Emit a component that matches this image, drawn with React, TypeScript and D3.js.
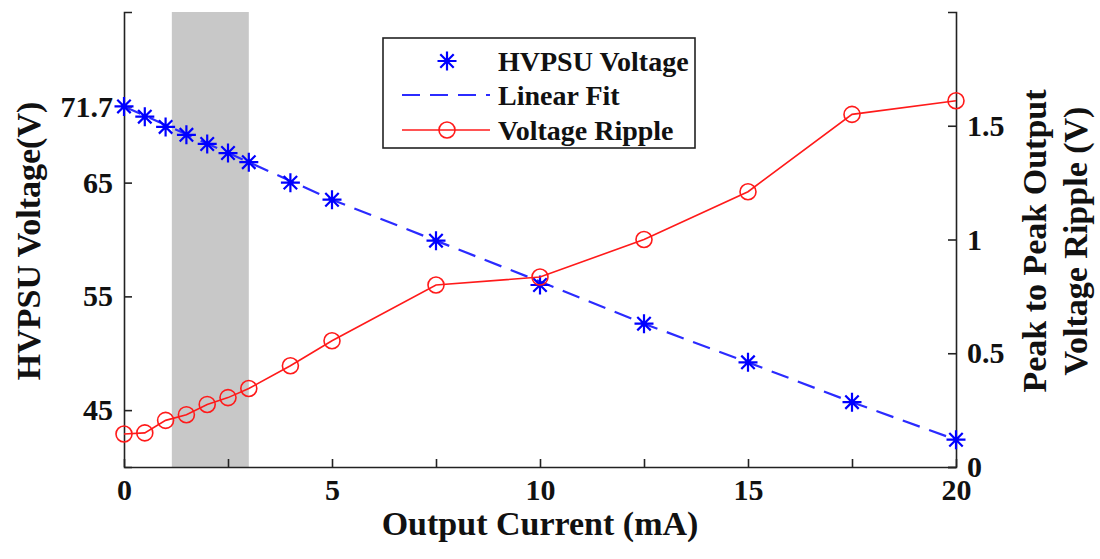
import React, { useRef, useEffect } from 'react';
import * as d3 from 'd3';

// output current (mA) for every measurement
const currents = [0, 0.5, 1, 1.5, 2, 2.5, 3, 4, 5, 7.5, 10, 12.5, 15, 17.5, 20];
// HVPSU output voltage (V), left axis
const voltage = [71.7, 70.8, 69.9, 69.2, 68.4, 67.6, 66.8, 65.0, 63.5, 59.9, 56.0, 52.6, 49.2, 45.7, 42.4];
// peak to peak ripple (V), right axis
const ripple = [0.145, 0.15, 0.205, 0.23, 0.275, 0.305, 0.345, 0.445, 0.555, 0.8, 0.835, 1.0, 1.21, 1.55, 1.61];

// dashed linear fit
const fitX = [0, 3, 5, 7.5, 10, 12.5, 15, 17.5, 20];
const fitY = [71.7, 66.8, 63.5, 59.9, 56.3, 52.6, 49.2, 45.7, 42.4];

// shaded band on the current axis
const band = [1.15, 3];

const xTicks = [0, 2.5, 5, 7.5, 10, 12.5, 15, 17.5, 20];
const leftTicks = [45, 55, 65, 71.7];
const rightTicks = [0, 0.5, 1, 1.5];

const legendItems = ['HVPSU Voltage', 'Linear Fit', 'Voltage Ripple'];

const FONT = '"Liberation Serif", "Times New Roman", serif';
const BLUE = '#0000ff';
const RED = '#ff1a1a';

function starPath(r) {
  const d = r * Math.SQRT1_2;
  return `M${-r},0H${r}M0,${-r}V${r}M${-d},${-d}L${d},${d}M${-d},${d}L${d},${-d}`;
}

function RippleChart() {
  const ref = useRef(null);
  const width = 1100;
  const height = 559;

  useEffect(() => {
    if (!ref.current) return;
    const svg = d3.select(ref.current);
    svg.selectAll('*').remove();

    const x = d3.scaleLinear().domain([0, 20]).range([124, 956]);
    const yL = d3.scaleLinear().domain([40, 80]).range([467, 12]);
    const yR = d3.scaleLinear().domain([0, 2]).range([467, 12]);

    // gray band
    svg.append('rect')
      .attr('x', x(band[0]))
      .attr('y', yL(80))
      .attr('width', x(band[1]) - x(band[0]))
      .attr('height', yL(40) - yL(80))
      .attr('fill', '#c8c8c8');

    const styleAxis = (g) => {
      g.selectAll('path').attr('stroke', '#222').attr('stroke-width', 1.6);
      g.selectAll('line').attr('stroke', '#222').attr('stroke-width', 1.6);
      g.selectAll('text')
        .attr('fill', '#111')
        .attr('font-family', FONT)
        .attr('font-weight', 'bold')
        .attr('font-size', 30);
    };

    svg.append('g')
      .attr('transform', `translate(0,${yL(40)})`)
      .call(d3.axisBottom(x).tickValues(xTicks).tickSizeInner(-8).tickSizeOuter(0).tickPadding(12)
        .tickFormat(d => (d % 5 === 0 ? String(d) : '')))
      .call(styleAxis);

    svg.append('g')
      .attr('transform', `translate(${x(0)},0)`)
      .call(d3.axisLeft(yL).tickValues(leftTicks).tickSizeInner(-8).tickSizeOuter(-8).tickPadding(11)
        .tickFormat(d => String(d)))
      .call(styleAxis);

    svg.append('g')
      .attr('transform', `translate(${x(20)},0)`)
      .call(d3.axisRight(yR).tickValues(rightTicks).tickSizeInner(-8).tickSizeOuter(-8).tickPadding(11)
        .tickFormat(d => String(d)))
      .call(styleAxis);

    svg.selectAll('.domain').attr('fill', 'none');

    // linear fit
    const fitLine = d3.line().x((d, i) => x(fitX[i])).y(d => yL(d));
    svg.append('path')
      .attr('d', fitLine(fitY))
      .attr('fill', 'none')
      .attr('stroke', '#2b2bff')
      .attr('stroke-width', 2.2)
      .attr('stroke-dasharray', '18,10');

    // voltage stars
    svg.append('g')
      .selectAll('path')
      .data(voltage)
      .join('path')
      .attr('transform', (d, i) => `translate(${x(currents[i])},${yL(d)})`)
      .attr('d', starPath(9.5))
      .attr('stroke', BLUE)
      .attr('stroke-width', 2.2)
      .attr('fill', 'none');

    // ripple line and circles
    const rippleLine = d3.line().x((d, i) => x(currents[i])).y(d => yR(d));
    svg.append('path')
      .attr('d', rippleLine(ripple))
      .attr('fill', 'none')
      .attr('stroke', RED)
      .attr('stroke-width', 1.6);

    svg.append('g')
      .selectAll('circle')
      .data(ripple)
      .join('circle')
      .attr('cx', (d, i) => x(currents[i]))
      .attr('cy', d => yR(d))
      .attr('r', 8)
      .attr('fill', 'none')
      .attr('stroke', RED)
      .attr('stroke-width', 1.6);

    // titles
    svg.append('text')
      .attr('x', (x(0) + x(20)) / 2)
      .attr('y', 535)
      .attr('text-anchor', 'middle')
      .attr('font-family', FONT)
      .attr('font-weight', 'bold')
      .attr('font-size', 34)
      .attr('fill', '#111')
      .text('Output Current (mA)');

    svg.append('text')
      .attr('transform', 'translate(40,241) rotate(-90)')
      .attr('text-anchor', 'middle')
      .attr('font-family', FONT)
      .attr('font-weight', 'bold')
      .attr('font-size', 34)
      .attr('fill', '#111')
      .text('HVPSU Voltage(V)');

    const rt = svg.append('text')
      .attr('transform', 'translate(1046,241) rotate(-90)')
      .attr('text-anchor', 'middle')
      .attr('font-family', FONT)
      .attr('font-weight', 'bold')
      .attr('font-size', 34)
      .attr('fill', '#111');
    rt.append('tspan').attr('x', 0).attr('y', 0).text('Peak to Peak Output');
    rt.append('tspan').attr('x', 0).attr('y', 41).text('Voltage Ripple (V)');

    // legend
    const lg = svg.append('g');
    lg.append('rect')
      .attr('x', 383).attr('y', 38).attr('width', 312).attr('height', 110)
      .attr('fill', '#fff').attr('stroke', '#222').attr('stroke-width', 1.6);

    const rows = [61, 95, 130];
    lg.append('path')
      .attr('transform', `translate(447,${rows[0]})`)
      .attr('d', starPath(9.5))
      .attr('stroke', BLUE).attr('stroke-width', 2.2).attr('fill', 'none');
    lg.append('line')
      .attr('x1', 402).attr('x2', 490).attr('y1', rows[1]).attr('y2', rows[1])
      .attr('stroke', '#2b2bff').attr('stroke-width', 2.2).attr('stroke-dasharray', '18,10');
    lg.append('line')
      .attr('x1', 402).attr('x2', 490).attr('y1', rows[2]).attr('y2', rows[2])
      .attr('stroke', RED).attr('stroke-width', 1.6);
    lg.append('circle')
      .attr('cx', 447).attr('cy', rows[2]).attr('r', 8)
      .attr('fill', 'none').attr('stroke', RED).attr('stroke-width', 1.6);

    lg.selectAll('text.leg')
      .data(legendItems)
      .join('text')
      .attr('class', 'leg')
      .attr('x', 498)
      .attr('y', (d, i) => rows[i])
      .attr('dy', '0.35em')
      .attr('font-family', FONT)
      .attr('font-weight', 'bold')
      .attr('font-size', 28)
      .attr('fill', '#111')
      .text(d => d);
  }, []);

  return (
    <svg
      ref={ref}
      width={width}
      height={height}
      style={{ position: 'absolute', left: 0, top: 0, background: '#fff' }}
    />
  );
}

export default function App() {
  return <RippleChart />;
}
